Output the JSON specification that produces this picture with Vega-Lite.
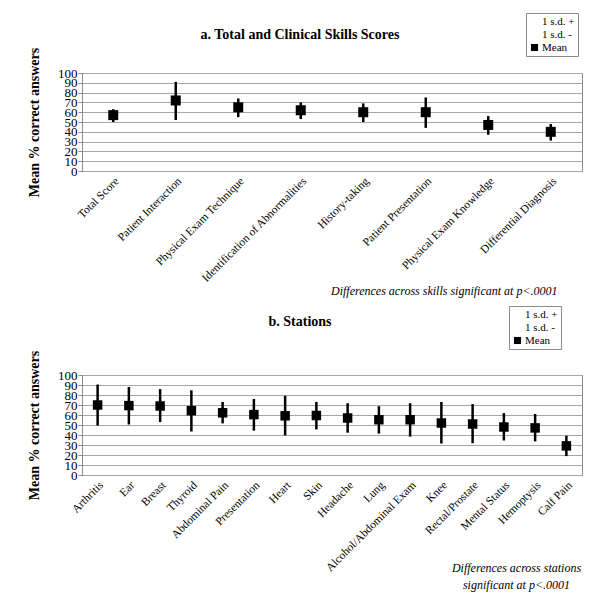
{
  "$schema": "https://vega.github.io/schema/vega-lite/v6.json",
  "background": "white",
  "padding": {"left": 26, "top": 12, "right": 5, "bottom": 5},
  "config": {
    "font": "Liberation Serif",
    "view": {"stroke": "#8c8c8c", "strokeWidth": 1},
    "axis": {"labelFont": "Liberation Serif", "titleFont": "Liberation Serif", "labelColor": "black", "titleColor": "black", "domainColor": "#8c8c8c", "tickColor": "#8c8c8c", "gridColor": "#a6a6a6"},
    "title": {"font": "Liberation Serif", "fontSize": 14, "fontWeight": "bold", "color": "black"},
    "concat": {"spacing": 8}
  },
  "resolve": {"scale": {"x": "independent", "y": "independent", "color": "independent"}, "legend": {"color": "independent"}},
  "vconcat": [
    {
      "width": 500,
      "height": 98,
      "title": {"text": "a. Total and Clinical Skills Scores", "dx": -32, "offset": -29},
      "data": {"values": [
        {"skill": "Total Score", "mean": 57, "low": 50, "high": 63},
        {"skill": "Patient Interaction", "mean": 72, "low": 52, "high": 91},
        {"skill": "Physical Exam Technique", "mean": 65, "low": 55, "high": 74},
        {"skill": "Identification of Abnormalities", "mean": 62, "low": 53, "high": 70},
        {"skill": "History-taking", "mean": 60, "low": 50, "high": 69},
        {"skill": "Patient Presentation", "mean": 60, "low": 44, "high": 75},
        {"skill": "Physical Exam Knowledge", "mean": 47, "low": 37, "high": 56},
        {"skill": "Differential Diagnosis", "mean": 40, "low": 31, "high": 48}
      ]},
      "encoding": {
        "x": {"field": "skill", "type": "nominal", "sort": null,
          "axis": {"labelAngle": -45, "labelFontSize": 11.5, "ticks": false, "domain": false, "labelPadding": 4, "labelLimit": 300,
            "title": "Differences across skills significant at  p<.0001", "titleFontStyle": "italic", "titleFontWeight": "normal", "titleFontSize": 12,
            "titleX": 475, "titleAlign": "right", "titleAnchor": "end", "titleY": 114}}
      },
      "layer": [
        {"mark": {"type": "rule", "strokeWidth": 2.5, "color": "black"},
          "encoding": {
            "y": {"field": "low", "type": "quantitative", "scale": {"domain": [0, 100]},
              "axis": {"title": "Mean % correct answers", "titleFontSize": 14, "titleFontWeight": "bold", "titlePadding": 16, "values": [0,10,20,30,40,50,60,70,80,90,100], "tickCount": 11, "labelOverlap": false, "labelFontSize": 13, "labelPadding": 1, "tickSize": 4, "grid": true, "labelBaseline": "middle"}},
            "y2": {"field": "high"}}},
        {"mark": {"type": "point", "shape": "square", "filled": true, "size": 100, "opacity": 1},
          "encoding": {
            "y": {"field": "mean", "type": "quantitative"},
            "color": {"datum": "Mean", "type": "nominal", "scale": {"domain": ["1 s.d. +", "1 s.d. -", "Mean"], "range": ["white", "white", "black"]},
              "legend": {"title": null, "orient": "none", "legendX": 444, "legendY": -60, "strokeColor": "#8c8c8c", "fillColor": "white", "padding": 3, "rowPadding": 1, "symbolType": "square", "symbolSize": 50, "symbolStrokeWidth": 0, "labelFont": "Liberation Serif", "labelFontSize": 11, "labelColor": "black", "labelOffset": 2}}}}
      ]
    },
    {
      "width": 500,
      "height": 100,
      "title": {"text": "b. Stations", "dx": -32, "offset": -23},
      "data": {"values": [
        {"station": "Arthritis", "mean": 70, "low": 49.5, "high": 90.5},
        {"station": "Ear", "mean": 69.4, "low": 50.5, "high": 88},
        {"station": "Breast", "mean": 69, "low": 52.9, "high": 85.9},
        {"station": "Thyroid", "mean": 64.3, "low": 43.5, "high": 84.7},
        {"station": "Abdominal Pain", "mean": 62.2, "low": 51.6, "high": 73},
        {"station": "Presentation", "mean": 60.4, "low": 44.4, "high": 76},
        {"station": "Heart", "mean": 59.2, "low": 39.6, "high": 79.3},
        {"station": "Skin", "mean": 59.5, "low": 45.6, "high": 73},
        {"station": "Headache", "mean": 57, "low": 42.3, "high": 71.8},
        {"station": "Lung", "mean": 55.3, "low": 41.4, "high": 68.8},
        {"station": "Alcohol/Abdominal Exam", "mean": 55.3, "low": 38.4, "high": 71.8},
        {"station": "Knee", "mean": 52, "low": 31.5, "high": 73},
        {"station": "Rectal/Prostate", "mean": 51, "low": 31.8, "high": 70.9},
        {"station": "Mental Status", "mean": 48, "low": 34.5, "high": 61.9},
        {"station": "Hemoptysis", "mean": 47.1, "low": 33.6, "high": 61},
        {"station": "Calf Pain", "mean": 29.1, "low": 18.9, "high": 39.3}
      ]},
      "encoding": {
        "x": {"field": "station", "type": "nominal", "sort": null,
          "axis": {"labelAngle": -45, "labelFontSize": 11.5, "ticks": false, "domain": false, "labelPadding": 4, "labelLimit": 300,
            "title": ["Differences across stations", "significant at p<.0001"], "titleFontStyle": "italic", "titleFontWeight": "normal", "titleFontSize": 12, "titleLineHeight": 17,
            "titleX": 434, "titleAlign": "center", "titleY": 87}}
      },
      "layer": [
        {"mark": {"type": "rule", "strokeWidth": 2.5, "color": "black"},
          "encoding": {
            "y": {"field": "low", "type": "quantitative", "scale": {"domain": [0, 100]},
              "axis": {"title": "Mean % correct answers", "titleFontSize": 14, "titleFontWeight": "bold", "titlePadding": 16, "values": [0,10,20,30,40,50,60,70,80,90,100], "tickCount": 11, "labelOverlap": false, "labelFontSize": 13, "labelPadding": 1, "tickSize": 4, "grid": true, "labelBaseline": "middle"}},
            "y2": {"field": "high"}}},
        {"mark": {"type": "point", "shape": "square", "filled": true, "size": 90, "opacity": 1},
          "encoding": {
            "y": {"field": "mean", "type": "quantitative"},
            "color": {"datum": "Mean", "type": "nominal", "scale": {"domain": ["1 s.d. +", "1 s.d. -", "Mean"], "range": ["white", "white", "black"]},
              "legend": {"title": null, "orient": "none", "legendX": 427, "legendY": -69, "strokeColor": "#8c8c8c", "fillColor": "white", "padding": 3, "rowPadding": 1, "symbolType": "square", "symbolSize": 50, "symbolStrokeWidth": 0, "labelFont": "Liberation Serif", "labelFontSize": 11, "labelColor": "black", "labelOffset": 2}}}}
      ]
    }
  ]
}
